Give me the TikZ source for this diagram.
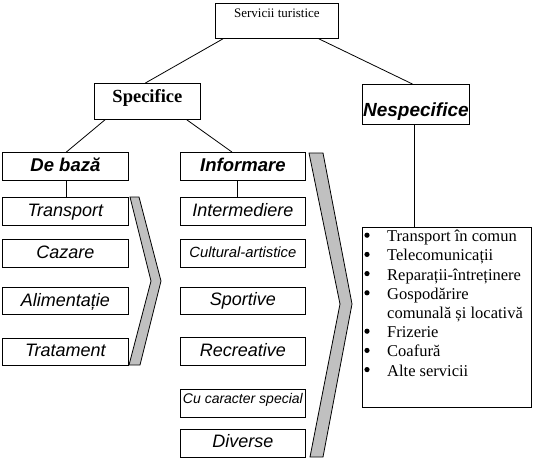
\documentclass[tikz,border=0pt]{standalone}
\usepackage{fontspec}
\setmainfont{Liberation Serif}
\newfontfamily\sansf{Liberation Sans}
\usetikzlibrary{calc}
\definecolor{chevgray}{RGB}{192,192,192}
\begin{document}
\begin{tikzpicture}[x=1pt,y=-1pt,
  box/.style={draw, line width=0.8pt, inner sep=0pt, anchor=north west},
  lab/.style={anchor=base, inner sep=0pt},
  bi/.style={lab, font=\sansf\bfseries\itshape\fontsize{18.5}{20}\selectfont},
  it/.style={lab, font=\sansf\itshape\fontsize{18}{20}\selectfont},
  chev/.style={draw, line width=0.8pt, fill=chevgray},
  conn/.style={line width=0.8pt},
  itm/.style={anchor=base west, inner sep=0pt, font=\fontsize{16.5}{18}\selectfont}
]
\useasboundingbox (0,0) rectangle (534,461);

% boxes
\node[box, minimum width=123, minimum height=35] (top) at (215,3) {};
\node[box, minimum width=106, minimum height=36] (spec) at (94,83) {};
\node[box, minimum width=107, minimum height=40] (nes) at (362,84) {};
\node[box, minimum width=126, minimum height=28] (debaza) at (2,152) {};
\node[box, minimum width=126, minimum height=28] (transport) at (2,197) {};
\node[box, minimum width=126, minimum height=28] (cazare) at (2,239) {};
\node[box, minimum width=126, minimum height=27] (aliment) at (2,287) {};
\node[box, minimum width=126, minimum height=27] (tratament) at (2,338) {};
\node[box, minimum width=125, minimum height=28] (informare) at (180,152) {};
\node[box, minimum width=125, minimum height=28] (intermed) at (180,197) {};
\node[box, minimum width=125, minimum height=28] (cultural) at (180,239) {};
\node[box, minimum width=125, minimum height=27] (sportive) at (180,287) {};
\node[box, minimum width=125, minimum height=28] (recreative) at (180,337) {};
\node[box, minimum width=125, minimum height=28] (cucaracter) at (180,389) {};
\node[box, minimum width=125, minimum height=28] (diverse) at (180,429) {};
\node[box, minimum width=169, minimum height=180] (list) at (362,227) {};

% texts
\node[lab, font=\fontsize{13}{15}\selectfont] (ttop) at ([yshift=3.8pt]top.center) {Servicii turistice};
\node[lab, font=\bfseries\fontsize{18.5}{20}\selectfont] (tspec) at ([yshift=-1pt]spec.center) {Specifice};
\node[bi, font=\sansf\bfseries\itshape\fontsize{19}{20}\selectfont] (tnes) at ([yshift=-12pt]nes.center) {Nespecifice};
\node[bi] (tdebaza) at ([yshift=-4.7pt]debaza.center) {De bază};
\node[bi] (tinformare) at ([yshift=-4.7pt]informare.center) {Informare};
\node[it] (ttransport) at ([yshift=-5pt]transport.center) {Transport};
\node[it] (tcazare) at ([yshift=-5.3pt]cazare.center) {Cazare};
\node[it] (taliment) at ([yshift=-5.2pt]aliment.center) {Alimentație};
\node[it] (ttratament) at ([yshift=-4.5pt]tratament.center) {Tratament};
\node[it] (tintermed) at ([yshift=-5pt]intermed.center) {Intermediere};
\node[lab, font=\sansf\itshape\fontsize{14.8}{16}\selectfont] (tcultural) at ([yshift=-3.7pt]cultural.center) {Cultural-artistice};
\node[it] (tsportive) at ([yshift=-5pt]sportive.center) {Sportive};
\node[it] (trecreative) at ([yshift=-4.7pt]recreative.center) {Recreative};
\node[lab, font=\sansf\itshape\fontsize{14}{16}\selectfont] (tcucaracter) at ([yshift=0.3pt]cucaracter.center) {Cu caracter special};
\node[it] (tdiverse) at ([yshift=-4.3pt]diverse.center) {Diverse};

% list items
\foreach \t [count=\i from 0] in {Transport în comun, Telecomunicații, Reparații-întreținere, Gospodărire, comunală și locativă, Frizerie, Coafură, Alte servicii}
  \node[itm] (item\i) at ($(list.north west)+(25,14.7+19.2*\i)$) {\t};
\foreach \i in {0,1,2,3,5,6,7}
  \fill ($(list.north west)+(5,8.2+19.2*\i)$) circle[radius=2.6];

% connectors
\draw[conn] ([xshift=8pt]top.south west) -- ([xshift=-2pt]spec.north);
\draw[conn] ([xshift=-20pt]top.south east) -- ([xshift=-3.5pt]nes.north);
\draw[conn] ([xshift=11pt]spec.south west) -- ([xshift=1pt]debaza.north);
\draw[conn] ([xshift=-14pt]spec.south east) -- ([xshift=-11pt]informare.north);
\draw[conn] ([xshift=1pt]debaza.south) -- ([xshift=1pt]transport.north);
\draw[conn] ([xshift=-5.5pt]informare.south) -- ([xshift=-5.5pt]intermed.north);
\draw[conn] ([xshift=-1.5pt]nes.south) -- ([xshift=-1.5pt]nes.south |- list.north);

% chevrons
\draw[chev] (130,197) -- (139,197) -- (161,281) -- (140,365) -- (129,365) -- (151,281) -- cycle;
\draw[chev] (309,153) -- (323,153) -- (352,304) -- (323,457) -- (310,457) -- (340,304) -- cycle;
\end{tikzpicture}
\end{document}
